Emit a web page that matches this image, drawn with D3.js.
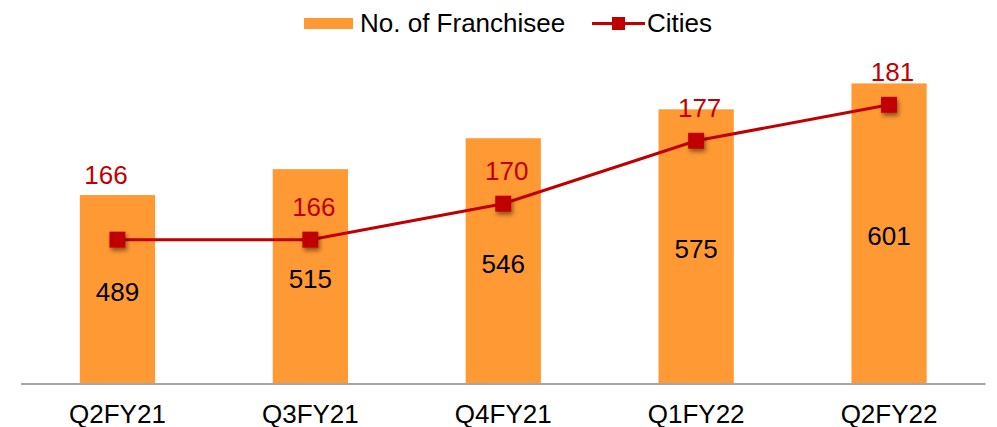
<!DOCTYPE html>
<html>
<head>
<meta charset="utf-8">
<script src="https://cdn.jsdelivr.net/npm/d3@7"></script>
<style>
  html, body { margin: 0; padding: 0; background: #fff; }
  svg { display: block; font-family: "Liberation Sans", Arial, sans-serif; }
</style>
</head>
<body>
<svg id="chart" width="997" height="427"></svg>
<script>
// Quarterly network growth: franchisees (bars) and cities served (line)
const quarters = ["Q2FY21", "Q3FY21", "Q4FY21", "Q1FY22", "Q2FY22"];
const franchisees = [489, 515, 546, 575, 601];
const cities = [166, 166, 170, 177, 181];

const barColor = "#FF9933";
const lineColor = "#C00000";

const W = 997, H = 427;
const plotLeft = 21, plotRight = 985.5, baseY = 383.5;

const svg = d3.select("#chart");

const defs = svg.append("defs");
const shadow = defs.append("filter")
  .attr("id", "markerShadow")
  .attr("x", "-50%").attr("y", "-50%")
  .attr("width", "200%").attr("height", "200%");
shadow.append("feDropShadow")
  .attr("dx", 1.5).attr("dy", 3)
  .attr("stdDeviation", 2)
  .attr("flood-color", "#000")
  .attr("flood-opacity", 0.45);

const x = d3.scaleBand()
  .domain(quarters)
  .range([plotLeft, plotRight])
  .paddingInner(0.61)
  .paddingOuter(0.305);

// Primary axis (franchisees) starts at 300
const yBar = d3.scaleLinear().domain([300, 650]).range([baseY, baseY - 350 * 0.997]);
// Secondary axis (cities)
const yLine = d3.scaleLinear().domain([150, 190]).range([baseY, baseY - 40 * 8.99]);

const rows = quarters.map((q, i) => ({ q, f: franchisees[i], c: cities[i], i }));

// Bars
svg.append("g").selectAll("rect")
  .data(rows).join("rect")
  .attr("x", d => x(d.q))
  .attr("y", d => yBar(d.f))
  .attr("width", x.bandwidth())
  .attr("height", d => baseY - yBar(d.f))
  .attr("fill", barColor);

// Category axis
const xAxis = svg.append("g")
  .attr("transform", `translate(0,${baseY})`)
  .call(d3.axisBottom(x).tickSize(0).tickPadding(21));
xAxis.select(".domain")
  .attr("d", `M${plotLeft},0.5H${plotRight}`)
  .attr("stroke", "#A6A6A6")
  .attr("stroke-width", 2);
xAxis.selectAll(".tick text")
  .attr("font-family", "Liberation Sans, Arial, sans-serif")
  .attr("font-size", 26)
  .attr("fill", "#000");

// Franchisee value labels, centred in each bar
svg.append("g").selectAll("text")
  .data(rows).join("text")
  .attr("x", d => x(d.q) + x.bandwidth() / 2)
  .attr("y", d => (yBar(d.f) + baseY) / 2 + 12)
  .attr("text-anchor", "middle")
  .attr("font-size", 26)
  .attr("fill", "#000")
  .text(d => d.f);

// Cities line
const cx = d => x(d.q) + x.bandwidth() / 2;
svg.append("path")
  .datum(rows)
  .attr("fill", "none")
  .attr("stroke", lineColor)
  .attr("stroke-width", 3)
  .attr("d", d3.line().x(cx).y(d => yLine(d.c)));

const mk = 16;
svg.append("g").selectAll("rect")
  .data(rows).join("rect")
  .attr("x", d => cx(d) - mk / 2)
  .attr("y", d => yLine(d.c) - mk / 2)
  .attr("width", mk).attr("height", mk)
  .attr("fill", lineColor)
  .attr("filter", "url(#markerShadow)");

// Cities value labels: above the marker, or above the bar for the first quarter
svg.append("g").selectAll("text")
  .data(rows).join("text")
  .attr("x", d => d.i === 0 ? cx(d) - 11.5 : cx(d) + 3.5)
  .attr("y", d => d.i === 0 ? yBar(d.f) - 11 : yLine(d.c) - 24)
  .attr("text-anchor", "middle")
  .attr("font-size", 26)
  .attr("fill", lineColor)
  .text(d => d.c);

// Legend
const legend = svg.append("g");
legend.append("rect")
  .attr("x", 304).attr("y", 18).attr("width", 49).attr("height", 11)
  .attr("fill", barColor);
legend.append("text")
  .attr("x", 360).attr("y", 31.5)
  .attr("font-size", 26).attr("fill", "#000")
  .text("No. of Franchisee");
legend.append("line")
  .attr("x1", 592).attr("x2", 645).attr("y1", 23.5).attr("y2", 23.5)
  .attr("stroke", lineColor).attr("stroke-width", 3);
legend.append("rect")
  .attr("x", 618.5 - 6.5).attr("y", 23.5 - 6.5).attr("width", 13).attr("height", 13)
  .attr("fill", lineColor);
legend.append("text")
  .attr("x", 647).attr("y", 31.5)
  .attr("font-size", 26).attr("fill", "#000")
  .text("Cities");
</script>
</body>
</html>
